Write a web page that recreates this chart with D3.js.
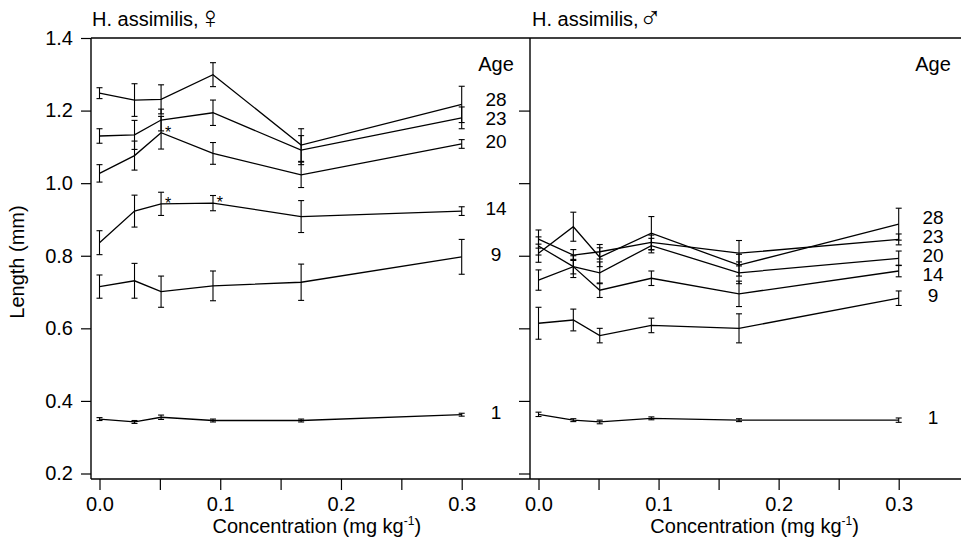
<!DOCTYPE html>
<html>
<head>
  <meta charset="utf-8" />
  <title>H. assimilis length by concentration</title>
  <style>
    body { margin: 0; background: #fff; }
    svg { display: block; font-family: "Liberation Sans", Arial, sans-serif; }
  </style>
</head>
<script src="https://cdnjs.cloudflare.com/ajax/libs/d3/7.8.5/d3.min.js"></script>
<body>
  <svg id="chart" width="961" height="541"></svg>
<script>
// concentrations (mg kg-1) and ages (days)
const conc = [0, 0.029, 0.051, 0.094, 0.167, 0.3]
const ages = [28, 23, 20, 14, 9, 1]
const yTicks = [0.2, 0.4, 0.6, 0.8, 1.0, 1.2, 1.4]
const xTicks = [0, 0.05, 0.1, 0.15, 0.2, 0.25, 0.3]
const xLabels = [0, 0.1, 0.2, 0.3]

// female means / errors, one row per age (same order as ages)
const femaleMeans = [
  [1.248, 1.229, 1.231, 1.299, 1.105, 1.217],
  [1.130, 1.133, 1.174, 1.194, 1.091, 1.180],
  [1.027, 1.076, 1.139, 1.082, 1.023, 1.108],
  [0.836, 0.923, 0.943, 0.945, 0.908, 0.923],
  [0.715, 0.731, 0.701, 0.717, 0.727, 0.797],
  [0.350, 0.342, 0.355, 0.346, 0.346, 0.362]
]
const femaleErrs = [
  [0.015, 0.045, 0.040, 0.033, 0.045, 0.050],
  [0.020, 0.040, 0.030, 0.035, 0.040, 0.030],
  [0.024, 0.040, 0.045, 0.030, 0.035, 0.012],
  [0.033, 0.044, 0.032, 0.021, 0.044, 0.012],
  [0.032, 0.048, 0.043, 0.041, 0.050, 0.048],
  [0.004, 0.004, 0.006, 0.004, 0.004, 0.004]
]
// significant points: [age, concentration index]
const femaleSig = [[20, 2], [14, 2], [14, 3]]

// male means / errors
const maleMeans = [
  [0.807, 0.880, 0.796, 0.862, 0.774, 0.887],
  [0.846, 0.802, 0.811, 0.837, 0.807, 0.845],
  [0.827, 0.770, 0.753, 0.828, 0.753, 0.793],
  [0.733, 0.770, 0.705, 0.738, 0.695, 0.758],
  [0.614, 0.623, 0.580, 0.608, 0.600, 0.683],
  [0.363, 0.347, 0.342, 0.352, 0.347, 0.347]
]
const maleErrs = [
  [0.025, 0.040, 0.026, 0.046, 0.030, 0.044],
  [0.025, 0.015, 0.020, 0.020, 0.035, 0.015],
  [0.025, 0.020, 0.030, 0.020, 0.030, 0.020],
  [0.028, 0.030, 0.020, 0.020, 0.035, 0.016],
  [0.044, 0.030, 0.020, 0.020, 0.040, 0.020],
  [0.006, 0.004, 0.005, 0.004, 0.004, 0.006]
]

let svg = d3.select('#chart')
svg.append('rect').attr('width', 961).attr('height', 541).attr('fill', '#fff')

let frameTop = 38, frameBottom = 479
let yScale = d3.scaleLinear().domain([0.2, 1.4]).range([473.5, 38])
let xLeft = d3.scaleLinear().domain([0, 0.3]).range([99.5, 461.7])
let xRight = d3.scaleLinear().domain([0, 0.3]).range([538.5, 898.7])

// frame lines
svg.append('line').attr('x1', 91).attr('x2', 961).attr('y1', frameTop).attr('y2', frameTop)
  .attr('stroke', '#000').attr('stroke-width', 1.4)
svg.append('line').attr('x1', 91).attr('x2', 961).attr('y1', frameBottom).attr('y2', frameBottom)
  .attr('stroke', '#000').attr('stroke-width', 1.4)
svg.append('line').attr('x1', 91).attr('x2', 91).attr('y1', frameTop).attr('y2', frameBottom)
  .attr('stroke', '#000').attr('stroke-width', 1.4)
svg.append('line').attr('x1', 530).attr('x2', 530).attr('y1', frameTop).attr('y2', frameBottom)
  .attr('stroke', '#000').attr('stroke-width', 1.4)

// y axes
let yAxis = d3.axisLeft(yScale).tickValues(yTicks).tickFormat(d3.format('.1f')).tickSize(10).tickPadding(8)
let gy = svg.append('g').attr('transform', 'translate(91,0)').call(yAxis)
gy.select('.domain').remove()
gy.selectAll('text').attr('font-size', 20).attr('fill', '#000').attr('font-family', null)

let gy2 = svg.append('g').attr('transform', 'translate(530,0)')
  .call(d3.axisLeft(yScale).tickValues(yTicks.slice(0, 6)).tickFormat('').tickSize(11))
gy2.select('.domain').remove()

// x axes
function xAxisFor(scale) {
  let g = svg.append('g').attr('transform', 'translate(0,' + frameBottom + ')')
    .call(d3.axisBottom(scale).tickValues(xTicks).tickSize(11).tickPadding(7)
      .tickFormat(d => xLabels.includes(d) ? d3.format('.1f')(d) : ''))
  g.select('.domain').remove()
  g.selectAll('text').attr('font-size', 20).attr('fill', '#000').attr('font-family', null)
  let t = svg.append('text')
    .attr('x', scale(0.18)).attr('y', 533)
    .attr('text-anchor', 'middle').attr('font-size', 20)
  t.append('tspan').text('Concentration (mg kg')
  t.append('tspan').text('-1').attr('font-size', 12).attr('dy', -8)
  t.append('tspan').text(')').attr('dy', 8)
}
xAxisFor(xLeft)
xAxisFor(xRight)

svg.selectAll('.tick line').attr('stroke', '#000').attr('stroke-width', 1.2)

svg.append('text').attr('transform', 'translate(24,262) rotate(-90)')
  .attr('text-anchor', 'middle').attr('font-size', 20).text('Length (mm)')

function title(x, name, sym) {
  let t = svg.append('text').attr('x', x).attr('y', 26).attr('font-size', 20)
  t.append('tspan').text(name)
  t.append('tspan').text(sym).attr('font-size', 31).attr('font-family', 'DejaVu Sans')
    .attr('font-weight', 200).attr('dy', 2)
}
title(92, 'H. assimilis,', '\u2640')
title(532, 'H. assimilis,', '\u2642')

// push labels apart so they do not overlap
function spread(ys, gap) {
  let out = ys.slice()
  for (let k = 0; k < 50; k++) {
    for (let i = 0; i < out.length - 1; i++) {
      let d = out[i + 1] - out[i]
      if (d < gap) {
        out[i] -= (gap - d) / 2
        out[i + 1] += (gap - d) / 2
      }
    }
  }
  return out
}

function panel(xScale, means, errs, labelX) {
  let g = svg.append('g')
  let line = d3.line().x((d, i) => xScale(conc[i])).y(d => yScale(d))

  means.forEach(function(row, s) {
    g.append('path').datum(row).attr('d', line)
      .attr('fill', 'none').attr('stroke', '#000').attr('stroke-width', 1.3)

    let bars = g.selectAll('.eb' + s)
      .data(row.map((m, i) => ({ x: conc[i], m: m, e: errs[s][i] })))
      .enter().append('g')
    bars.append('line')
      .attr('x1', d => xScale(d.x)).attr('x2', d => xScale(d.x))
      .attr('y1', d => yScale(d.m - d.e)).attr('y2', d => yScale(d.m + d.e))
    bars.append('line')
      .attr('x1', d => xScale(d.x) - 3).attr('x2', d => xScale(d.x) + 3)
      .attr('y1', d => yScale(d.m + d.e)).attr('y2', d => yScale(d.m + d.e))
    bars.append('line')
      .attr('x1', d => xScale(d.x) - 3).attr('x2', d => xScale(d.x) + 3)
      .attr('y1', d => yScale(d.m - d.e)).attr('y2', d => yScale(d.m - d.e))
    bars.selectAll('line').attr('stroke', '#000').attr('stroke-width', 1.1)
  })

  let last = means.map(r => yScale(r[r.length - 1]))
  let ly = spread(last, 19)
  g.append('text').attr('x', labelX).attr('y', 71)
    .attr('text-anchor', 'middle').attr('font-size', 20).text('Age')
  g.selectAll('.age').data(ages).enter().append('text')
    .attr('x', labelX).attr('y', (d, i) => ly[i]).attr('dy', '0.22em')
    .attr('text-anchor', 'middle').attr('font-size', 19).text(d => d)
}

panel(xLeft, femaleMeans, femaleErrs, 496)
panel(xRight, maleMeans, maleErrs, 933)

// asterisks for significant differences
svg.selectAll('.sig').data(femaleSig).enter().append('text')
  .attr('x', d => xLeft(conc[d[1]]) + 7)
  .attr('y', d => yScale(femaleMeans[ages.indexOf(d[0])][d[1]]) + 5)
  .attr('text-anchor', 'middle').attr('font-size', 16).text('*')
</script>
</body>
</html>
